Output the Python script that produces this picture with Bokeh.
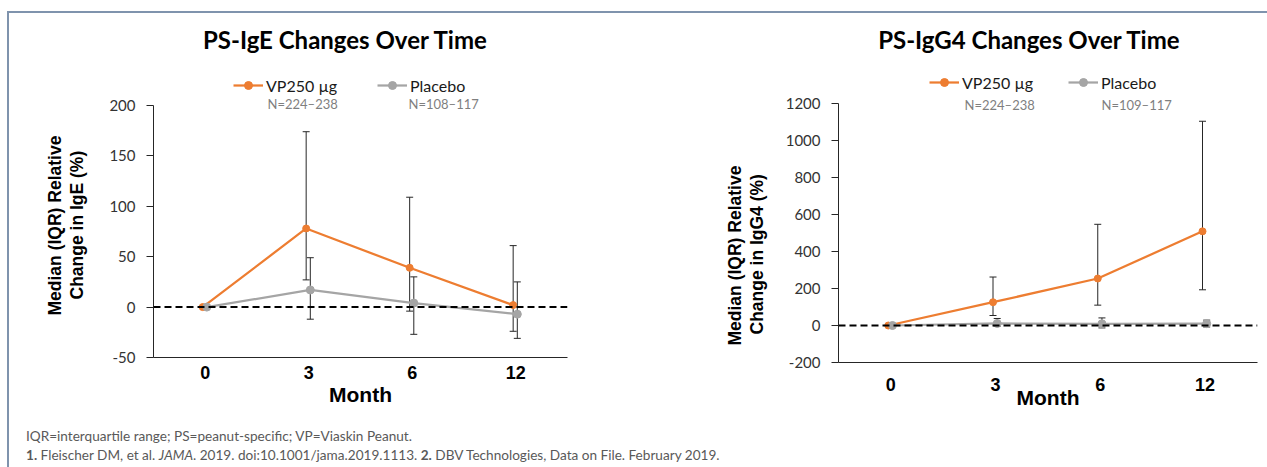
import math
from bokeh.plotting import figure
from bokeh.models import (Range1d, FactorRange, SingleIntervalTicker, Span, Whisker, TeeHead,
                          ColumnDataSource, Legend, LegendItem, Label, Div, Title,
                          NumeralTickFormatter)
from bokeh.layouts import row, column
from bokeh.transform import dodge
from bokeh.embed import file_html
from bokeh.resources import INLINE

# ---------------- data ----------------
months = ["0", "3", "6", "12"]

ige_vp = [0, 78, 39, 2]
ige_vp_q1 = [0, 27, -4, -24]
ige_vp_q3 = [0, 174, 109, 61]
ige_pl = [0, 17, 4, -7]
ige_pl_q1 = [0, -12, -27, -31]
ige_pl_q3 = [0, 49, 30, 25]

igg4_vp = [0, 126, 254, 509]
igg4_vp_q1 = [0, 54, 110, 193]
igg4_vp_q3 = [0, 262, 547, 1104]
igg4_pl = [0, 11, 9, 10]
igg4_pl_q1 = [0, -4, -13, -8]
igg4_pl_q3 = [0, 38, 41, 29]

series_names = ["VP250 µg", "Placebo"]
n_labels_ige = ["N=224–238", "N=108–117"]
n_labels_igg4 = ["N=224–238", "N=109–117"]
titles = ["PS-IgE Changes Over Time", "PS-IgG4 Changes Over Time"]
ylabels_ige = ["Median (IQR) Relative", "Change in IgE (%)"]
ylabels_igg4 = ["Median (IQR) Relative", "Change in IgG4 (%)"]
xlabel = "Month"

ORANGE = "#ED7D31"
GRAY = "#A5A5A5"
SANS = "Lato"
BOLD = "Liberation Sans"


def make_chart(width, height, mb, data_px, ylim, yint, vp, vpq1, vpq3, pl, plq1, plq3,
               title, title_pos, leg_pos, n_labels, n_pos, ylabels, ylab_offsets,
               ylab_gap, xstandoff, month_standoff):
    # frame extends to the canvas top so that title / legend live inside it;
    # the y axis itself is bounded to the data limits
    frame_px = height - mb[3]
    ymax = ylim[0] + (ylim[1] - ylim[0]) * frame_px / data_px
    p = figure(width=width, height=height, x_range=FactorRange(factors=months),
               y_range=Range1d(ylim[0], ymax), output_backend="svg", toolbar_location=None,
               title=None,
               min_border_left=mb[0], min_border_right=mb[1],
               min_border_top=0, min_border_bottom=mb[3])
    p.outline_line_color = None
    p.grid.visible = False

    # axes
    p.yaxis.bounds = ylim
    p.yaxis.ticker = SingleIntervalTicker(interval=yint)
    p.yaxis.formatter = NumeralTickFormatter(format="0")
    p.yaxis.axis_line_color = "#262626"
    p.yaxis.major_tick_line_color = "#262626"
    p.yaxis.major_tick_out = 7
    p.yaxis.major_tick_in = 0
    p.yaxis.minor_tick_line_color = None
    p.yaxis.major_label_standoff = 11
    p.yaxis.major_label_text_font = SANS
    p.yaxis.major_label_text_font_size = "15px"
    p.yaxis.major_label_text_color = "#333333"

    p.xaxis.axis_line_color = "#262626"
    p.xaxis.major_tick_line_color = None
    p.xaxis.minor_tick_line_color = None
    p.xaxis.major_label_standoff = xstandoff
    p.xaxis.major_label_text_font = BOLD
    p.xaxis.major_label_text_font_style = "bold"
    p.xaxis.major_label_text_font_size = "18px"
    p.xaxis.major_label_text_color = "#000000"
    p.xaxis.axis_label = xlabel
    p.xaxis.axis_label_text_font = BOLD
    p.xaxis.axis_label_text_font_style = "bold"
    p.xaxis.axis_label_text_font_size = "21px"
    p.xaxis.axis_label_text_color = "#000000"
    p.xaxis.axis_label_standoff = month_standoff

    # y axis title: a thin spacer, then two vertical lines in the left panel
    p.add_layout(Title(text="\u00a0", text_font_size="2px", standoff=ylab_gap), "left")
    for txt, off in ((ylabels[1], ylab_offsets[1]), (ylabels[0], ylab_offsets[0])):
        p.add_layout(Title(text=txt, align="left", offset=off, standoff=0,
                           text_font=BOLD, text_font_style="bold",
                           text_font_size="17.5px", text_color="#000000"), "left")

    # error bars
    err_vp = ColumnDataSource(dict(month=months[1:], lo=vpq1[1:], hi=vpq3[1:]))
    err_pl = ColumnDataSource(dict(month=months[1:], lo=plq1[1:], hi=plq3[1:]))
    for src, off in ((err_vp, -0.025), (err_pl, 0.015)):
        w = Whisker(source=src, base=dodge("month", off, range=p.x_range), lower="lo", upper="hi",
                    line_color="#262626", line_width=1,
                    upper_head=TeeHead(size=7, line_color="#262626", line_width=1),
                    lower_head=TeeHead(size=7, line_color="#262626", line_width=1))
        p.add_layout(w)

    src_vp = ColumnDataSource(dict(month=months, v=vp))
    src_pl = ColumnDataSource(dict(month=months, v=pl))
    l_vp = p.line(x=dodge("month", -0.025, range=p.x_range), y="v", source=src_vp,
                  line_color=ORANGE, line_width=2.25)
    s_vp = p.scatter(x=dodge("month", -0.025, range=p.x_range), y="v", source=src_vp,
                     size=7, fill_color=ORANGE, line_color=ORANGE)
    l_pl = p.line(x=dodge("month", 0.015, range=p.x_range), y="v", source=src_pl,
                  line_color=GRAY, line_width=2.25)
    s_pl = p.scatter(x=dodge("month", 0.015, range=p.x_range), y="v", source=src_pl,
                     size=8, fill_color=GRAY, line_color=GRAY)

    p.add_layout(Span(location=0, dimension="width", line_color="#000000",
                      line_width=2, line_dash="7 4"))

    # legends (one item each, placed individually)
    for (lx, ly), name, rends in ((leg_pos[0], series_names[0], [l_vp, s_vp]),
                                   (leg_pos[1], series_names[1], [l_pl, s_pl])):
        leg = Legend(items=[LegendItem(label=name, renderers=rends)], location=(lx, ly),
                     orientation="horizontal", glyph_width=30, glyph_height=20,
                     label_height=20, label_standoff=3, padding=0, margin=0,
                     border_line_color=None, background_fill_alpha=0,
                     label_text_font=SANS, label_text_font_size="16px",
                     label_text_color="#1a1a1a")
        p.add_layout(leg)

    for (nx, ny), txt in zip(n_pos, n_labels):
        p.add_layout(Label(x=nx, y=ny, x_units="screen", y_units="screen", text=txt,
                           text_font=SANS, text_font_size="13px", text_color="#7f7f7f",
                           text_align="left", text_baseline="middle"))

    p.add_layout(Label(x=title_pos[0], y=title_pos[1], x_units="screen", y_units="screen",
                       text=title, text_font=SANS, text_font_style="bold",
                       text_font_size="24px", text_color="#000000",
                       text_align="center", text_baseline="middle"))
    return p


p1 = make_chart(713, 410, (144, 155, 0, 66), 252, (-50, 200), 50,
                ige_vp, ige_vp_q1, ige_vp_q3, ige_pl, ige_pl_q1, ige_pl_q3,
                titles[0], (192, 318), [(80, 262), (224, 262)],
                n_labels_ige, [(114, 254), (255, 254)],
                ylabels_ige, (42, 58), 16, 2, 1)

p2 = make_chart(545, 454, (113, 10, 0, 105), 259, (-200, 1200), 200,
                igg4_vp, igg4_vp_q1, igg4_vp_q3, igg4_pl, igg4_pl_q1, igg4_pl_q3,
                titles[1], (191, 323), [(91, 270), (230, 270)],
                n_labels_igg4, [(126, 258), (263, 258)],
                ylabels_igg4, (17, 28), 12, 9, -8)

foot_html = ('<div style="font-family: Lato; font-size: 13.6px; color: #595959; '
             'line-height: 19px; padding: 4px 0 0 17px; white-space: nowrap;">'
             'IQR=interquartile range; PS=peanut-specific; VP=Viaskin Peanut.<br>'
             '<b>1.</b> Fleischer DM, et al. <i>JAMA</i>. 2019. doi:10.1001/jama.2019.1113. '
             '<b>2.</b> DBV Technologies, Data on File. February 2019.</div>')
foot = Div(text=foot_html, width=713, height=44, margin=(0, 0, 0, 0))

BORDER = "#7f93ad"
top_line = Div(text="", width=1260, height=2, margin=(11, 0, 0, 7),
               styles={"background-color": BORDER})
left_line = Div(text="", width=2, height=454, margin=(0, 0, 0, 7),
                styles={"background-color": BORDER})

layout = column(top_line, row(left_line, column(p1, foot), p2))

open("out.html", "w").write(file_html(layout, INLINE))
